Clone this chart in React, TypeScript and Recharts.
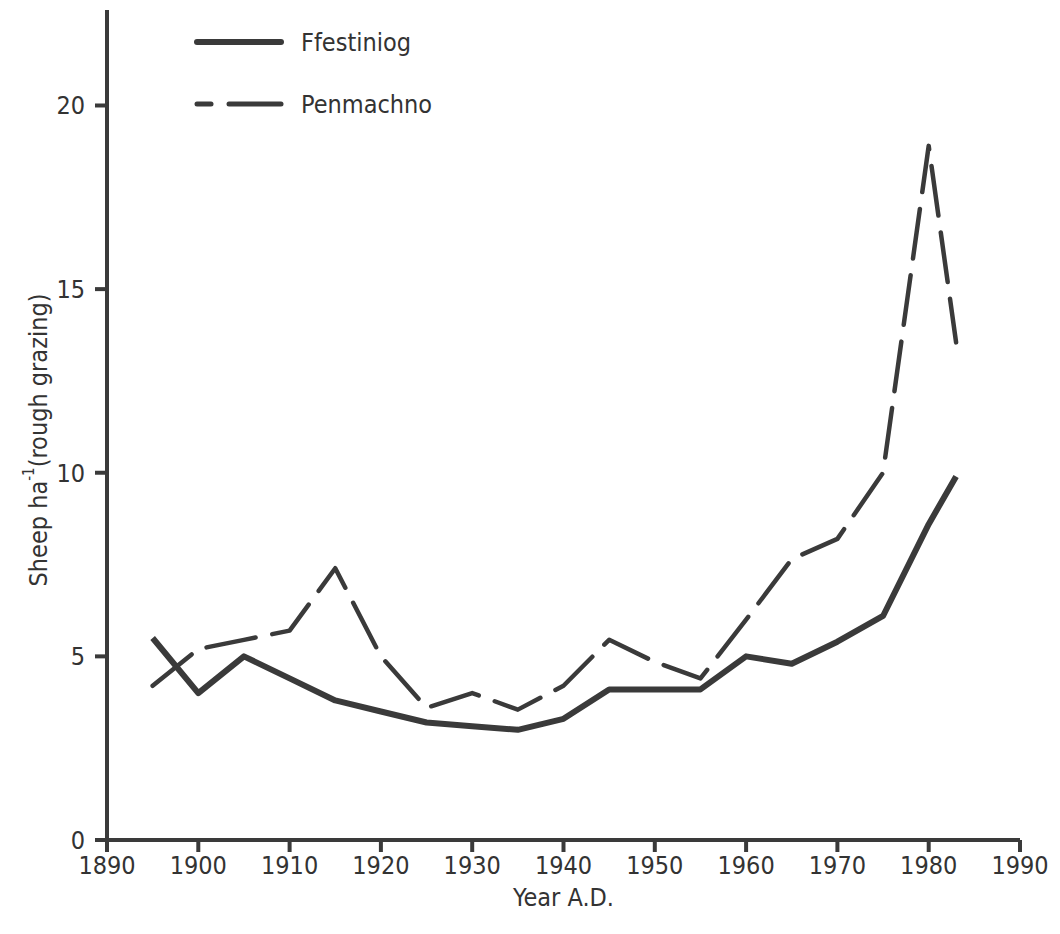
import React from "react";
import {
  LineChart,
  Line,
  XAxis,
  YAxis,
  Legend,
  Label,
} from "recharts";

// Survey years (A.D.)
const years = [
  1895, 1900, 1905, 1910, 1915, 1920, 1925, 1930, 1935, 1940, 1945, 1950,
  1955, 1960, 1965, 1970, 1975, 1980, 1983,
];

// Sheep per hectare of rough grazing
const ffestiniog = [
  5.5, 4.0, 5.0, 4.4, 3.8, 3.5, 3.2, 3.1, 3.0, 3.3, 4.1, 4.1, 4.1, 5.0, 4.8,
  5.4, 6.1, 8.6, 9.9,
];
const penmachno = [
  4.2, 5.2, 5.45, 5.7, 7.4, 5.0, 3.6, 4.0, 3.55, 4.2, 5.45, 4.85, 4.4, 6.0,
  7.65, 8.2, 10.0, 18.9, 13.55,
];

const xTicks = [1890, 1900, 1910, 1920, 1930, 1940, 1950, 1960, 1970, 1980, 1990];
const yTicks = [0, 5, 10, 15, 20];

const data = years.map((year, i) => ({
  year,
  ffestiniog: ffestiniog[i],
  penmachno: penmachno[i],
}));

const INK = "#3a3a3a";
const TEXT = "#333";
const FONT = "'DejaVu Sans Condensed', 'Liberation Sans Narrow', sans-serif";

// Legend drawn as two rows: line sample + name
const LegendBox = () => (
  <svg width={300} height={100}>
    <line x1={4} y1={14} x2={88} y2={14} stroke={INK} strokeWidth={6} strokeLinecap="round" />
    <text x={108} y={23} fontFamily={FONT} fontSize={25} fill={TEXT}>
      Ffestiniog
    </text>
    <line x1={4} y1={76} x2={18} y2={76} stroke={INK} strokeWidth={5} strokeLinecap="round" />
    <line x1={36} y1={76} x2={88} y2={76} stroke={INK} strokeWidth={5} strokeLinecap="round" />
    <text x={108} y={85} fontFamily={FONT} fontSize={25} fill={TEXT}>
      Penmachno
    </text>
  </svg>
);

const App = () => {
  return (
    <div style={{ position: "absolute", left: 0, top: 0, background: "#fff" }}>
      <LineChart
        width={1060}
        height={934}
        data={data}
        margin={{ top: 10, right: 40, bottom: 0, left: 0 }}
      >
        <XAxis
          dataKey="year"
          type="number"
          domain={[1890, 1990]}
          ticks={xTicks}
          height={94}
          stroke={INK}
          strokeWidth={4}
          tickSize={12}
          tickMargin={4}
          tick={{ fill: TEXT, fontSize: 25, fontFamily: FONT }}
        >
          <Label
            value="Year A.D."
            position="insideBottom"
            offset={28}
            style={{ fill: TEXT, fontSize: 25, fontFamily: FONT }}
          />
        </XAxis>
        <YAxis
          type="number"
          domain={[0, 22.6]}
          ticks={yTicks}
          width={107}
          stroke={INK}
          strokeWidth={4}
          tickSize={12}
          tickMargin={10}
          tick={{ fill: TEXT, fontSize: 25, fontFamily: FONT }}
        >
          <Label
            content={() => (
              <text
                x={38}
                y={440}
                transform="rotate(-90 38 440)"
                textAnchor="middle"
                dominantBaseline="central"
                fontFamily={FONT}
                fontSize={25}
                fill={TEXT}
              >
                Sheep ha
                <tspan baselineShift="super" fontSize={15}>
                  -1
                </tspan>
                (rough grazing)
              </text>
            )}
          />
        </YAxis>
        <Legend
          layout="horizontal"
          verticalAlign="middle"
          align="center"
          wrapperStyle={{ top: 28, left: 193, width: 300, height: 100 }}
          content={() => <LegendBox />}
        />
        <Line
          type="linear"
          dataKey="ffestiniog"
          name="Ffestiniog"
          stroke={INK}
          strokeWidth={6}
          strokeLinejoin="round"
          dot={false}
          isAnimationActive={false}
        />
        <Line
          type="linear"
          dataKey="penmachno"
          name="Penmachno"
          stroke={INK}
          strokeWidth={4.5}
          strokeDasharray="50 17"
          strokeLinecap="round"
          strokeLinejoin="round"
          dot={false}
          isAnimationActive={false}
        />
      </LineChart>
    </div>
  );
};

export default App;
